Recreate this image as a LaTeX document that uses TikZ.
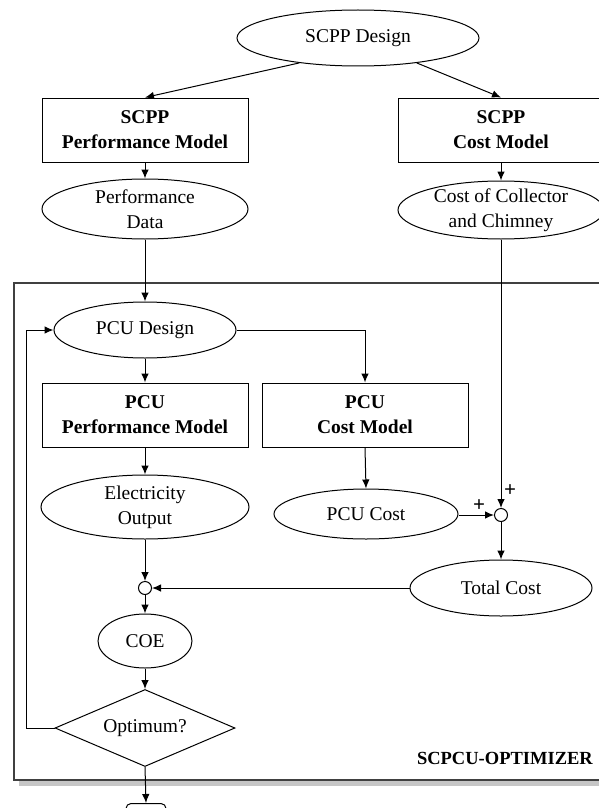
\documentclass[tikz,border=0pt]{standalone}
\usepackage{fontspec}
\setmainfont{Liberation Serif}
\usetikzlibrary{shapes.geometric,arrows.meta}
\begin{document}
\begin{tikzpicture}[x=1pt,y=-1pt,
  every node/.style={font=\fontsize{19.5}{25}\selectfont, align=center, inner sep=0pt},
  shp/.style={draw, line width=1pt},
  ell/.style={shp, ellipse, minimum width=#1},
  ell/.default=206,
  box/.style={shp, rectangle, minimum width=206, minimum height=64, font=\fontsize{19.5}{25}\selectfont\bfseries},
  sumpt/.style={shp, circle, minimum size=13, fill=white},
  conn/.style={line width=1pt, -{Latex[length=9pt,width=7.5pt]}},
  plus/.style={font=\fontsize{21}{21}\selectfont\bfseries}
]
\useasboundingbox (0,0) rectangle (599,808);
\clip (0,0) rectangle (599,808);

% frame with shadow
\fill[gray!45] (19,289) rectangle (616,786);
\draw[line width=1.4pt, fill=white, draw=black!75] (14,283) rectangle (610,780);
\node[font=\fontsize{18.5}{20}\selectfont\bfseries, anchor=east] (opt) at (593,758) {SCPCU-OPTIMIZER};

% top part
\node[ell=242, minimum height=56, label={center:SCPP Design}] (design) at (358,38) {};
\node[box] (spm) at (145,130) {SCPP\\Performance Model};
\node[box] (scm) at (501,130) {SCPP\\Cost Model};
\node[ell=206, minimum height=60, label={center:{Performance\\Data}}] (pd) at (145,209) {};
\node[ell=206, minimum height=58, label={center:{Cost of Collector\\and Chimney}}] (cc) at (501,210) {};

% optimizer part
\node[ell=182, minimum height=56, label={center:PCU Design}] (pcud) at (145,330) {};
\node[box] (ppm) at (145,415) {PCU\\Performance Model};
\node[box] (pcm) at (365,415) {PCU\\Cost Model};
\node[ell=208, minimum height=64, label={center:{Electricity\\Output}}] (eo) at (145,507) {};
\node[ell=184, minimum height=50, label={center:PCU Cost}] (pc) at (366,514) {};
\node[sumpt] (s1) at (501,515) {};
\node[ell=182, minimum height=56, label={center:Total Cost}] (tc) at (501,588) {};
\node[sumpt] (s2) at (145,588) {};
\node[ell=94, minimum height=54, label={center:COE}] (coe) at (145,641) {};
\node[shp, diamond, minimum width=180, minimum height=77, label={center:Optimum?}] (optq) at (145,728) {};
\node[shp, rectangle, rounded corners=5pt, minimum width=40, minimum height=30, anchor=north] (fin) at (146,803) {};

\coordinate (lp1) at (26,728);
\coordinate (lp2) at (26,330);

% connectors
\draw[conn] (design.203) -- (spm.north);
\draw[conn] (design.-23) -- (scm.north);
\draw[conn] (spm.south) -- (pd.north);
\draw[conn] (scm.south) -- (cc.north);
\draw[conn] (pd.south) -- (pcud.north);
\draw[conn] (pcud.east) -| (pcm.north);
\draw[conn] (pcud.south) -- (ppm.north);
\draw[conn] (ppm.south) -- (eo.north);
\draw[conn] (pcm.south) -- (pc.north);
\draw[conn] (pc.east |- s1.west) -- (s1.west);
\draw[conn] (cc.south) -- (s1.north);
\draw[conn] (s1.south) -- (tc.north);
\draw[conn] (eo.south) -- (s2.north);
\draw[conn] (tc.west |- s2.east) -- (s2.east);
\draw[conn] (s2.south) -- (coe.north);
\draw[conn] (coe.south) -- (optq.north);
\draw[conn] (optq.south) -- (fin.north);
\draw[conn] (optq.west) -- (lp1) -- (lp2) -- (pcud.west);

\node[plus] (p1) at (479,506) {+};
\node[plus] (p2) at (510,491) {+};
\end{tikzpicture}
\end{document}
